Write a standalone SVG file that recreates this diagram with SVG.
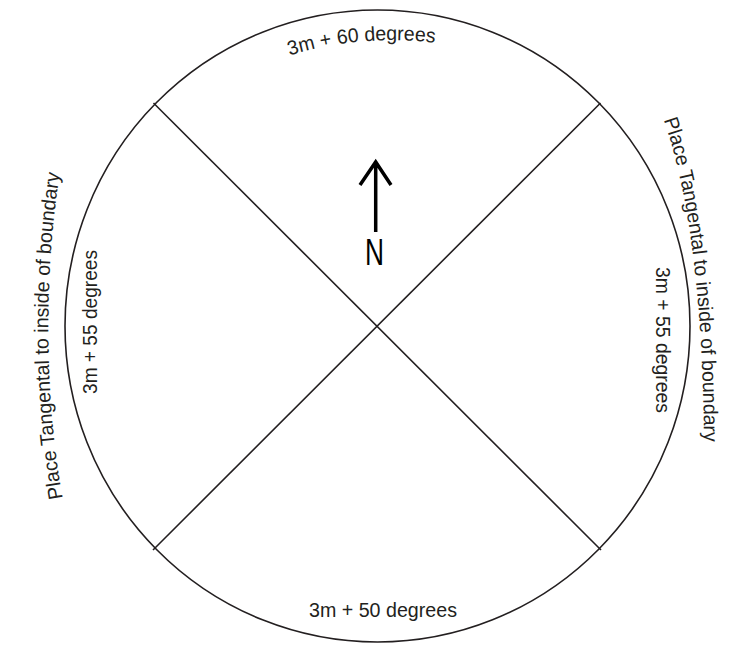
<svg xmlns="http://www.w3.org/2000/svg" width="740" height="646" viewBox="0 0 740 646">
  <style>
    .lbl { font-family: "Liberation Sans", Arial, sans-serif; font-size: 20px; fill: #231f20; }
    .ln { stroke: #231f20; stroke-width: 1.6; fill: none; }
  </style>
  <defs>
    <path id="topArc" d="M 42,390 A 350 350 0 0 1 742,390"/>
    <path id="leftArc" d="M 63,500 C 44,400 44,270 60,172"/>
    <path id="rightArc" d="M 663,118 C 680,165 703,260 704,445"/>
  </defs>
  <rect width="740" height="646" fill="#ffffff"/>
  <g id="boundary">
    <ellipse class="ln" cx="377.5" cy="326" rx="312.5" ry="316"/>
  </g>
  <g id="connectors">
    <line class="ln" x1="153.5" y1="103" x2="601" y2="550"/>
    <line class="ln" x1="600.5" y1="103" x2="153" y2="550"/>
  </g>
  <g id="north">
    <path d="M 375.7,232 L 375.7,161 M 360,185 L 375.7,162 L 391,185" fill="none" stroke="#000000" stroke-width="3.5" stroke-linejoin="miter" stroke-linecap="butt"/>
    <text x="374.5" y="265" font-family="Liberation Sans, Arial, sans-serif" font-size="36" fill="#000000" text-anchor="middle" textLength="19" lengthAdjust="spacingAndGlyphs">N</text>
  </g>
  <g id="label-top">
    <text class="lbl"><textPath href="#topArc" startOffset="519" text-anchor="middle" textLength="147" lengthAdjust="spacingAndGlyphs">3m + 60 degrees</textPath></text>
  </g>
  <g id="label-bottom">
    <text class="lbl" x="383" y="617" text-anchor="middle" textLength="148" lengthAdjust="spacingAndGlyphs">3m + 50 degrees</text>
  </g>
  <g id="label-left-inner">
    <text class="lbl" transform="translate(97,322) rotate(-90)" text-anchor="middle" textLength="144" lengthAdjust="spacingAndGlyphs">3m + 55 degrees</text>
  </g>
  <g id="label-right-inner">
    <text class="lbl" transform="translate(656,340) rotate(90)" text-anchor="middle" textLength="146" lengthAdjust="spacingAndGlyphs">3m + 55 degrees</text>
  </g>
  <g id="label-left-outer">
    <text class="lbl"><textPath href="#leftArc" startOffset="2" textLength="326" lengthAdjust="spacingAndGlyphs">Place Tangental to inside of boundary</textPath></text>
  </g>
  <g id="label-right-outer">
    <text class="lbl"><textPath href="#rightArc" startOffset="2" textLength="326" lengthAdjust="spacingAndGlyphs">Place Tangental to inside of boundary</textPath></text>
  </g>
</svg>
